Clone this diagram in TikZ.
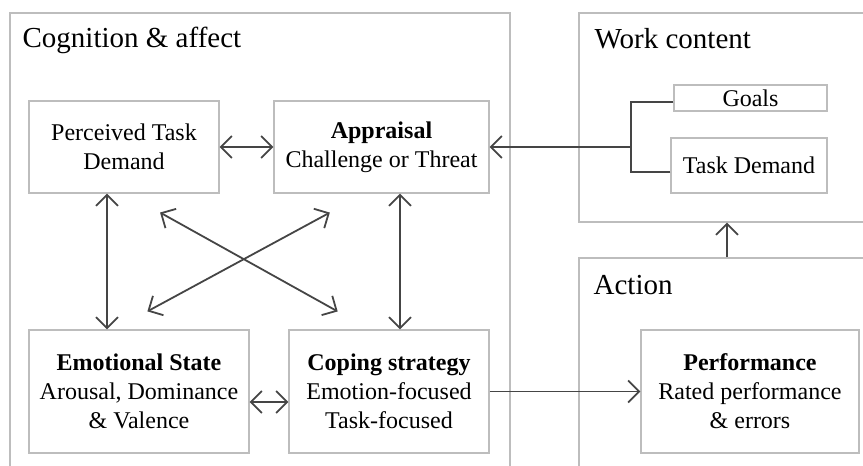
\documentclass[tikz,border=0pt]{standalone}
\usepackage{fontspec}
\setmainfont{Liberation Serif}
\usetikzlibrary{arrows.meta}

\definecolor{framegray}{HTML}{BDBDBD}
\definecolor{linkgray}{HTML}{454545}

\tikzset{
    frame/.style={draw=framegray, line width=1.1pt, inner sep=0pt},
    blockbox/.style={draw=framegray, line width=1.1pt, align=center,
        inner sep=0pt, font=\fontsize{24}{29}\selectfont},
    regiontitle/.style={anchor=base west, inner sep=0pt,
        font=\fontsize{29}{34}\selectfont},
    link/.style={draw=linkgray, line width=1.8pt}
}

\begin{document}
\begin{tikzpicture}[x=1pt, y=-1pt, >={Straight Barb[length=11pt,width=22pt]}]
            \useasboundingbox (0,0) rectangle (863,466);
            \clip (0,0) rectangle (863,466);

            \node[
                frame,
                minimum width=500pt,
                minimum height=487pt,
                name=cognition
            ] at (260,256.5) {};
            \node[
                frame,
                minimum width=321pt,
                minimum height=209pt,
                name=work
            ] at (739.5,117.5) {};
            \node[
                frame,
                minimum width=321pt,
                minimum height=242pt,
                name=action
            ] at (739.5,379) {};

            \node[regiontitle, name=cogtitle]
                at ([xshift=13pt,yshift=-35pt]cognition.north west) {Cognition \& affect};
            \node[regiontitle, name=worktitle]
                at ([xshift=16pt,yshift=-36pt]work.north west) {Work content};
            \node[regiontitle, name=actiontitle]
                at ([xshift=15pt,yshift=-37pt]action.north west) {Action};

            \node[
                blockbox,
                minimum width=190pt,
                minimum height=92pt,
                name=ptd
            ] at (124,147) {Perceived Task\\Demand};
            \node[
                blockbox,
                minimum width=215pt,
                minimum height=92pt,
                name=appraisal
            ] at (381.5,147) {\textbf{Appraisal}\\Challenge or Threat};
            \node[
                blockbox,
                minimum width=220pt,
                minimum height=123pt,
                name=emotion
            ] at (139,391.5) {\textbf{Emotional State}\\Arousal, Dominance\\\& Valence};
            \node[
                blockbox,
                minimum width=200pt,
                minimum height=123pt,
                name=coping
            ] at (389,391.5) {\textbf{Coping strategy}\\Emotion-focused\\Task-focused};
            \node[
                blockbox,
                minimum width=218pt,
                minimum height=123pt,
                name=perf
            ] at (750,391.5) {\textbf{Performance}\\Rated performance\\\& errors};
            \node[
                blockbox,
                minimum width=153pt,
                minimum height=26pt,
                name=goals
            ] at (750.5,98) {Goals};
            \node[
                blockbox,
                minimum width=156pt,
                minimum height=55pt,
                name=taskdem
            ] at (749,165.5) {Task Demand};

            \coordinate (branch) at (631,147);

            \draw[link, <->] (ptd) -- (appraisal);
            \draw[link, <->] ([yshift=-10.5pt]emotion.east) -- ([yshift=-10.5pt]coping.west);
            \draw[link, ->] (coping) -- (perf);

            \draw[link, <->] ([xshift=-17pt]ptd.south) -- ([xshift=-32pt]emotion.north);
            \draw[link, <->] ([xshift=18.5pt]appraisal.south) -- ([xshift=11pt]coping.north);

            \draw[link, <->, shorten <=39pt, shorten >=37pt]
                ([xshift=2pt]ptd.south) -- ([xshift=-19pt]coping.north);
            \draw[link, <->, shorten <=40pt, shorten >=38pt]
                ([xshift=-16.5pt]appraisal.south) -- ([xshift=-25pt]emotion.north);

            \draw[link] ([yshift=-4pt]goals.west) -| (branch);
            \draw[link] ([yshift=-6.5pt]taskdem.west) -| (branch);
            \draw[link, ->] (branch) -- (appraisal);

            \draw[link, ->] ([xshift=-12.5pt]action.north) -- ([xshift=-12.5pt]work.south);
        \end{tikzpicture}
\end{document}
